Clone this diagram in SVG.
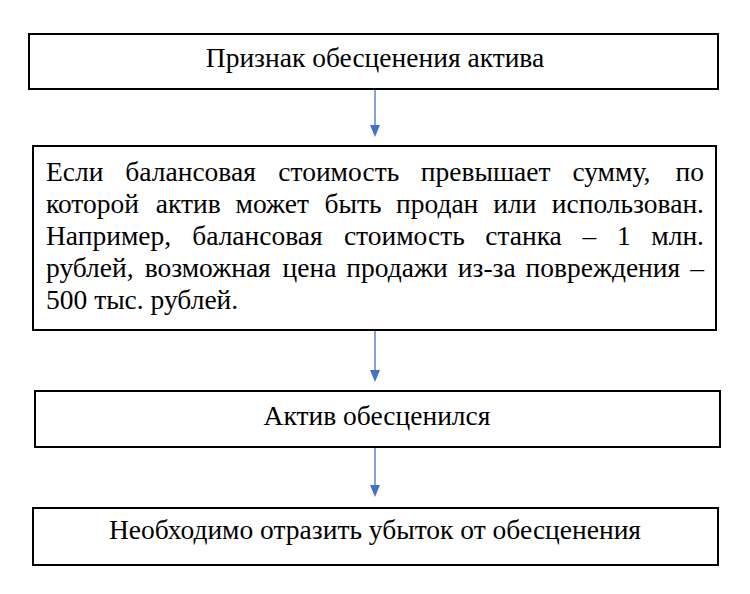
<svg xmlns="http://www.w3.org/2000/svg" width="750" height="594" viewBox="0 0 750 594">
<rect width="750" height="594" fill="#fff"/>
<g id="connectors" stroke="#4472C4" stroke-width="1.3" fill="#4472C4">
<line x1="375" y1="89" x2="375" y2="128"/>
<path d="M370,125 L380,125 L375,137 Z" stroke="none"/>
<line x1="375" y1="330" x2="375" y2="373"/>
<path d="M370,370 L380,370 L375,382 Z" stroke="none"/>
<line x1="375" y1="447" x2="375" y2="488"/>
<path d="M370,485 L380,485 L375,497 Z" stroke="none"/>
</g>
<g id="n1">
<rect x="29" y="34" width="689" height="55" fill="#fff" stroke="#000" stroke-width="2"/>
<text x="375" y="67" font-family="Liberation Serif" font-size="27.5" text-anchor="middle">Признак обесценения актива</text>
</g>
<g id="n2">
<rect x="33" y="146" width="683" height="184" fill="#fff" stroke="#000" stroke-width="2"/>
<text x="46" y="181" font-family="Liberation Serif" font-size="27.5">Если</text>
<text x="125.3" y="181" font-family="Liberation Serif" font-size="27.5">балансовая</text>
<text x="278.3" y="181" font-family="Liberation Serif" font-size="27.5">стоимость</text>
<text x="420.8" y="181" font-family="Liberation Serif" font-size="27.5">превышает</text>
<text x="572.4" y="181" font-family="Liberation Serif" font-size="27.5">сумму,</text>
<text x="704" y="181" font-family="Liberation Serif" font-size="27.5" text-anchor="end">по</text>
<text x="46" y="213" font-family="Liberation Serif" font-size="27.5">которой</text>
<text x="155.7" y="213" font-family="Liberation Serif" font-size="27.5">актив</text>
<text x="235.6" y="213" font-family="Liberation Serif" font-size="27.5">может</text>
<text x="324.6" y="213" font-family="Liberation Serif" font-size="27.5">быть</text>
<text x="396" y="213" font-family="Liberation Serif" font-size="27.5">продан</text>
<text x="493.2" y="213" font-family="Liberation Serif" font-size="27.5">или</text>
<text x="704" y="213" font-family="Liberation Serif" font-size="27.5" text-anchor="end">использован.</text>
<text x="46" y="245" font-family="Liberation Serif" font-size="27.5">Например,</text>
<text x="192.2" y="245" font-family="Liberation Serif" font-size="27.5">балансовая</text>
<text x="343.9" y="245" font-family="Liberation Serif" font-size="27.5">стоимость</text>
<text x="485.2" y="245" font-family="Liberation Serif" font-size="27.5">станка</text>
<text x="582.5" y="245" font-family="Liberation Serif" font-size="27.5">–</text>
<text x="616.9" y="245" font-family="Liberation Serif" font-size="27.5">1</text>
<text x="704" y="245" font-family="Liberation Serif" font-size="27.5" text-anchor="end">млн.</text>
<text x="46" y="277" font-family="Liberation Serif" font-size="27.5">рублей,</text>
<text x="144.7" y="277" font-family="Liberation Serif" font-size="27.5">возможная</text>
<text x="282.6" y="277" font-family="Liberation Serif" font-size="27.5">цена</text>
<text x="346.3" y="277" font-family="Liberation Serif" font-size="27.5">продажи</text>
<text x="457.8" y="277" font-family="Liberation Serif" font-size="27.5">из-за</text>
<text x="525.5" y="277" font-family="Liberation Serif" font-size="27.5">повреждения</text>
<text x="704" y="277" font-family="Liberation Serif" font-size="27.5" text-anchor="end">–</text>
<text x="46" y="309" font-family="Liberation Serif" font-size="27.5">500 тыс. рублей.</text>
</g>
<g id="n3">
<rect x="35" y="391" width="685" height="56" fill="#fff" stroke="#000" stroke-width="2"/>
<text x="377" y="425" font-family="Liberation Serif" font-size="27.5" text-anchor="middle">Актив обесценился</text>
</g>
<g id="n4">
<rect x="33" y="508" width="685" height="57" fill="#fff" stroke="#000" stroke-width="2"/>
<text x="375" y="539" font-family="Liberation Serif" font-size="27.5" text-anchor="middle">Необходимо отразить убыток от обесценения</text>
</g>
</svg>
